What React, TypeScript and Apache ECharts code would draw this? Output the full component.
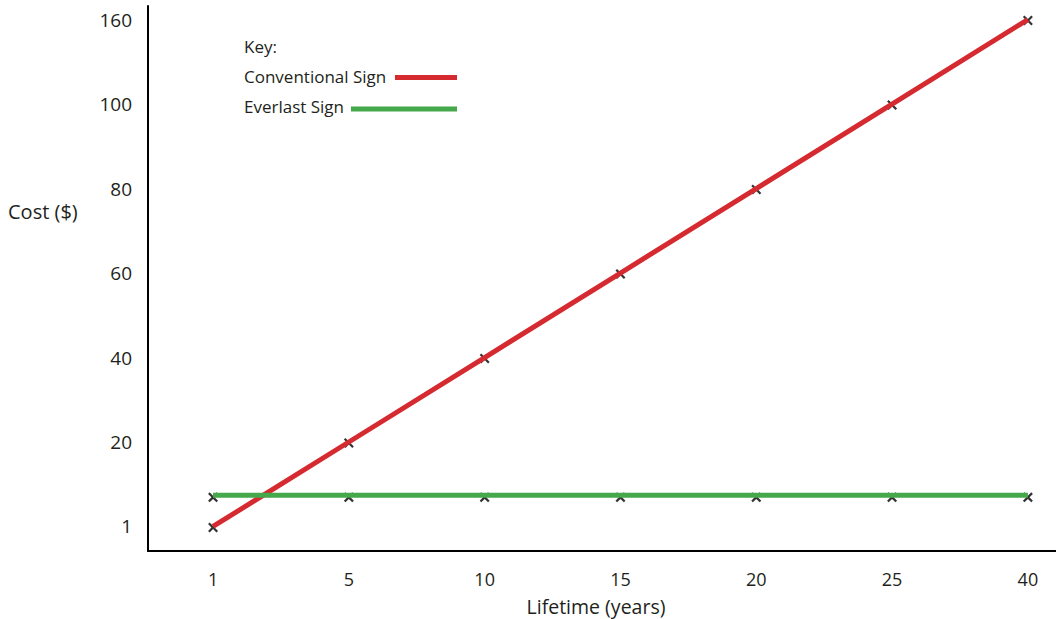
import React, { useEffect, useRef } from "react";
import * as echarts from "echarts";

const xLabels = ["1", "5", "10", "15", "20", "25", "40"];
const yTickLabels = [1, 20, 40, 60, 80, 100, 160];
const conventionalCost = [1, 20, 40, 60, 80, 100, 160];
const everlastCost = [8, 8, 8, 8, 8, 8, 8];

const RED = "#d62a31";
const GREEN = "#45a84a";
const INK = "#231f20";
const FONT = "'Open Sans', 'Noto Sans', sans-serif";

// The picture's y-axis places its (uneven) tick labels at equal spacing;
// map a cost onto that ticked position.
function costToAxis(c: number): number {
  for (let i = 0; i < yTickLabels.length - 1; i++) {
    const a = yTickLabels[i];
    const b = yTickLabels[i + 1];
    if (c <= b || i === yTickLabels.length - 2) {
      return i + (c - a) / (b - a);
    }
  }
  return 0;
}

const XMARK =
  "path://M0,1.6 L1.6,0 L5,3.4 L8.4,0 L10,1.6 L6.6,5 L10,8.4 L8.4,10 L5,6.6 L1.6,10 L0,8.4 L3.4,5 Z";

export default function App() {
  const ref = useRef<HTMLDivElement>(null);
  useEffect(() => {
    if (!ref.current) return;
    const chart = echarts.init(ref.current, undefined, { renderer: "svg" });
    const idx = xLabels.map((_, i) => i);
    const conv = conventionalCost.map((c, i) => [i, costToAxis(c)]);
    const ever = everlastCost.map((c, i) => [i, costToAxis(c)]);
    chart.setOption({
      animation: false,
      backgroundColor: "#ffffff",
      textStyle: { fontFamily: FONT },
      grid: { left: 148, right: 0, top: 6, bottom: 68 },
      xAxis: {
        type: "value",
        min: -0.479,
        max: 6.207,
        axisLine: { show: true, onZero: false, lineStyle: { color: "#000", width: 2 } },
        axisTick: { show: false },
        splitLine: { show: false },
        axisLabel: {
          customValues: idx,
          formatter: (v: number) => xLabels[Math.round(v)] ?? "",
          fontSize: 18,
          lineHeight: 18,
          color: INK,
          fontFamily: FONT,
          margin: 19,
        },
      },
      yAxis: {
        type: "value",
        min: -0.29,
        max: 6.16,
        axisLine: { show: true, onZero: false, lineStyle: { color: "#000", width: 2 } },
        axisTick: { show: false },
        splitLine: { show: false },
        axisLabel: {
          customValues: idx,
          formatter: (v: number) => String(yTickLabels[Math.round(v)] ?? ""),
          fontSize: 19,
          color: INK,
          fontFamily: FONT,
          margin: 16,
        },
      },
      series: [
        {
          name: "Conventional Sign",
          type: "line",
          data: conv,
          symbol: "none",
          lineStyle: { color: RED, width: 5 },
          z: 3,
        },
        {
          name: "Everlast Sign",
          type: "line",
          data: ever,
          symbol: "none",
          lineStyle: { color: GREEN, width: 5 },
          z: 3,
        },
        {
          type: "scatter",
          data: conv,
          symbol: XMARK,
          symbolSize: [10, 10],
          symbolOffset: [0, 1],
          itemStyle: { color: "#000" },
          z: 2,
        },
        {
          type: "scatter",
          data: ever,
          symbol: XMARK,
          symbolSize: [10, 10],
          symbolOffset: [0, 2],
          itemStyle: { color: "#000" },
          z: 2,
        },
      ],
      graphic: [
        {
          type: "text",
          left: 8,
          top: 201,
          style: { text: "Cost ($)", fontSize: 20, fill: INK, fontFamily: FONT },
        },
        {
          type: "text",
          x: 596,
          y: 606,
          style: {
            text: "Lifetime (years)",
            fontSize: 19.5,
            lineHeight: 20,
            fill: INK,
            fontFamily: FONT,
            align: "center",
            verticalAlign: "middle",
          },
        },
        {
          type: "text",
          x: 244,
          y: 46,
          style: { text: "Key:", fontSize: 17, fill: INK, fontFamily: FONT, verticalAlign: "middle" },
        },
        {
          type: "text",
          x: 244,
          y: 76,
          style: { text: "Conventional Sign", fontSize: 17, fill: INK, fontFamily: FONT, verticalAlign: "middle" },
        },
        {
          type: "line",
          shape: { x1: 395, y1: 77.5, x2: 457, y2: 77.5 },
          style: { stroke: RED, lineWidth: 5 },
        },
        {
          type: "text",
          x: 244,
          y: 106,
          style: { text: "Everlast Sign", fontSize: 17, fill: INK, fontFamily: FONT, verticalAlign: "middle" },
        },
        {
          type: "line",
          shape: { x1: 351, y1: 109, x2: 457, y2: 109 },
          style: { stroke: GREEN, lineWidth: 5 },
        },
      ],
    });
    return () => chart.dispose();
  }, []);
  return (
    <div
      ref={ref}
      style={{ position: "fixed", left: 0, top: 0, width: 1056, height: 619 }}
    />
  );
}
